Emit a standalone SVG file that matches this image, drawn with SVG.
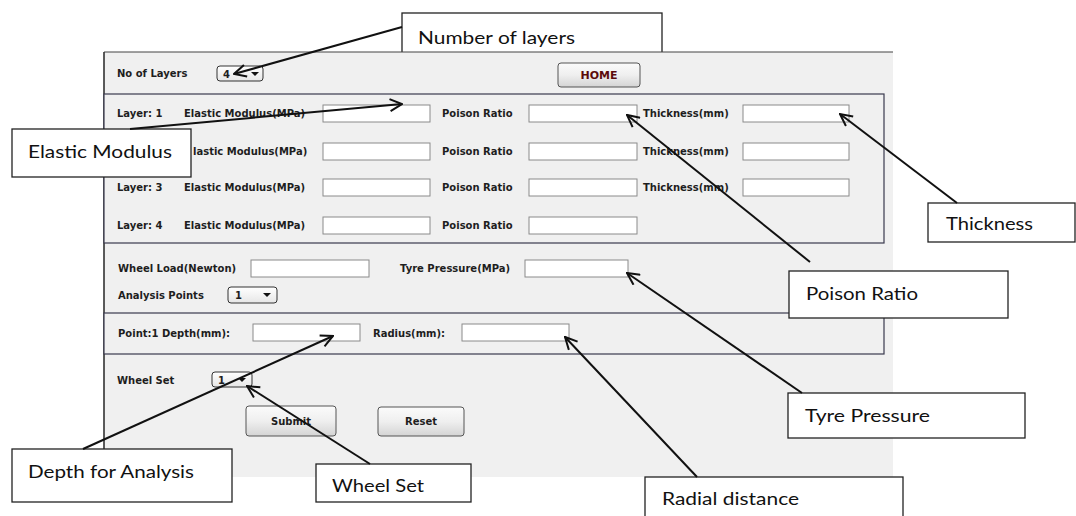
<svg xmlns="http://www.w3.org/2000/svg" width="1076" height="516" viewBox="0 0 1076 516">
<defs>
<linearGradient id="btn" x1="0" y1="0" x2="0" y2="1">
<stop offset="0" stop-color="#fbfbfb"/><stop offset="0.5" stop-color="#efefef"/><stop offset="1" stop-color="#d4d4d4"/>
</linearGradient>
<linearGradient id="dd" x1="0" y1="0" x2="0" y2="1">
<stop offset="0" stop-color="#ffffff"/><stop offset="1" stop-color="#e6e6e6"/>
</linearGradient>
<marker id="arr" viewBox="0 0 14 14" refX="13" refY="7" markerWidth="14" markerHeight="14" markerUnits="userSpaceOnUse" orient="auto">
<path d="M1,1 L13,7 L1,13" fill="none" stroke="#111" stroke-width="2"/>
</marker>
<style>
.ui{font-family:"DejaVu Sans",Verdana,sans-serif;font-size:10px;font-weight:bold;fill:#1e1e1e}
.fld{fill:#ffffff;stroke:#8a8a8a;stroke-width:1}
.ddb{fill:url(#dd);stroke:#333;stroke-width:1}
.btn{fill:url(#btn);stroke:#555;stroke-width:1}
.pan{fill:#f0f0f0;stroke:#3a3a4e;stroke-width:1.2}
.tri{fill:#111}
.cb{fill:#ffffff;stroke:#222;stroke-width:1.3}
.ct{font-family:Lato,"Liberation Sans",sans-serif;font-size:18px;fill:#111}
.con{stroke:#111;stroke-width:2;fill:none;marker-end:url(#arr)}
</style>
</defs>
<rect width="1076" height="516" fill="#ffffff"/>

<g id="callout-number-of-layers">
<rect class="cb" x="402" y="13" width="260" height="40"/>
<text class="ct" x="418" y="44" textLength="157" lengthAdjust="spacingAndGlyphs">Number of layers</text>
</g>

<g id="gui-window">
<rect x="104" y="52" width="789" height="425" fill="#f0f0f0"/>
<line x1="104" y1="52" x2="893" y2="52" stroke="#444" stroke-width="1.2"/>
<line x1="104" y1="52" x2="104" y2="477" stroke="#333" stroke-width="1.6"/>

<text class="ui" x="117" y="77">No of Layers</text>
<rect class="ddb" x="217" y="66" width="46" height="15" rx="3"/>
<text class="ui" x="223" y="78">4</text>
<path class="tri" d="M251,72 L259,72 L255,76 Z"/>

<rect class="btn" x="558" y="63" width="82" height="24" rx="3"/>
<text x="599" y="79" text-anchor="middle" font-family="DejaVu Sans,Verdana,sans-serif" font-size="11" font-weight="bold" fill="#5c0a0a">HOME</text>

<rect class="pan" x="104" y="94" width="780" height="149"/>
<text class="ui" x="117" y="117">Layer: 1</text>
<text class="ui" x="184" y="117">Elastic Modulus(MPa)</text>
<rect class="fld" x="323" y="105" width="107" height="17"/>
<text class="ui" x="442" y="117">Poison Ratio</text>
<rect class="fld" x="529" y="105" width="108" height="17"/>
<text class="ui" x="643" y="117">Thickness(mm)</text>
<rect class="fld" x="743" y="105" width="106" height="17"/>

<text class="ui" x="193" y="155">lastic Modulus(MPa)</text>
<rect class="fld" x="323" y="143" width="107" height="17"/>
<text class="ui" x="442" y="155">Poison Ratio</text>
<rect class="fld" x="529" y="143" width="108" height="17"/>
<text class="ui" x="643" y="155">Thickness(mm)</text>
<rect class="fld" x="743" y="143" width="106" height="17"/>

<text class="ui" x="117" y="191">Layer: 3</text>
<text class="ui" x="184" y="191">Elastic Modulus(MPa)</text>
<rect class="fld" x="323" y="179" width="107" height="17"/>
<text class="ui" x="442" y="191">Poison Ratio</text>
<rect class="fld" x="529" y="179" width="108" height="17"/>
<text class="ui" x="643" y="191">Thickness(mm)</text>
<rect class="fld" x="743" y="179" width="106" height="17"/>

<text class="ui" x="117" y="229">Layer: 4</text>
<text class="ui" x="184" y="229">Elastic Modulus(MPa)</text>
<rect class="fld" x="323" y="217" width="107" height="17"/>
<text class="ui" x="442" y="229">Poison Ratio</text>
<rect class="fld" x="529" y="217" width="108" height="17"/>

<text class="ui" x="118" y="272">Wheel Load(Newton)</text>
<rect class="fld" x="251" y="260" width="118" height="17"/>
<text class="ui" x="400" y="272">Tyre Pressure(MPa)</text>
<rect class="fld" x="525" y="260" width="103" height="17"/>
<text class="ui" x="118" y="299">Analysis Points</text>
<rect class="ddb" x="228" y="287" width="49" height="16" rx="3"/>
<text class="ui" x="235" y="299">1</text>
<path class="tri" d="M263,293 L271,293 L267,297 Z"/>

<rect class="pan" x="104" y="313" width="780" height="41"/>
<text class="ui" x="118" y="337">Point:1 Depth(mm):</text>
<rect class="fld" x="253" y="324" width="107" height="17"/>
<text class="ui" x="373" y="337">Radius(mm):</text>
<rect class="fld" x="462" y="324" width="107" height="17"/>

<text class="ui" x="117" y="384">Wheel Set</text>
<rect class="ddb" x="212" y="372" width="40" height="15" rx="3"/>
<text class="ui" x="218" y="384">1</text>
<path class="tri" d="M238,378 L246,378 L242,382 Z"/>

<rect class="btn" x="246" y="406" width="90" height="30" rx="3"/>
<text class="ui" x="291" y="425" text-anchor="middle">Submit</text>
<rect class="btn" x="378" y="407" width="86" height="29" rx="3"/>
<text class="ui" x="421" y="425" text-anchor="middle">Reset</text>
</g>

<g id="callout-elastic-modulus">
<rect class="cb" x="12" y="129" width="179" height="48"/>
<text class="ct" x="28" y="158" textLength="144" lengthAdjust="spacingAndGlyphs">Elastic Modulus</text>
</g>
<g id="callout-thickness">
<rect class="cb" x="928" y="203" width="147" height="39"/>
<text class="ct" x="946" y="230" textLength="87" lengthAdjust="spacingAndGlyphs">Thickness</text>
</g>
<g id="callout-poison-ratio">
<rect class="cb" x="789" y="271" width="219" height="47"/>
<text class="ct" x="806" y="300" textLength="112" lengthAdjust="spacingAndGlyphs">Poison Ratio</text>
</g>
<g id="callout-tyre-pressure">
<rect class="cb" x="788" y="393" width="237" height="45"/>
<text class="ct" x="805" y="422" textLength="125" lengthAdjust="spacingAndGlyphs">Tyre Pressure</text>
</g>
<g id="callout-radial-distance">
<rect class="cb" x="645" y="477" width="258" height="48"/>
<text class="ct" x="662" y="505" textLength="137" lengthAdjust="spacingAndGlyphs">Radial distance</text>
</g>
<g id="callout-depth-for-analysis">
<rect class="cb" x="12" y="449" width="220" height="53"/>
<text class="ct" x="28" y="478" textLength="166" lengthAdjust="spacingAndGlyphs">Depth for Analysis</text>
</g>
<g id="callout-wheel-set">
<rect class="cb" x="316" y="464" width="155" height="38"/>
<text class="ct" x="332" y="492" textLength="92" lengthAdjust="spacingAndGlyphs">Wheel Set</text>
</g>

<g id="connectors">
<line class="con" x1="402" y1="27" x2="234" y2="74"/>
<line class="con" x1="130" y1="129" x2="402" y2="104"/>
<line class="con" x1="810" y1="262" x2="627" y2="115"/>
<line class="con" x1="957" y1="203" x2="840" y2="114"/>
<line class="con" x1="802" y1="393" x2="627" y2="273"/>
<line class="con" x1="697" y1="477" x2="565" y2="337"/>
<line class="con" x1="83" y1="449" x2="333" y2="336"/>
<line class="con" x1="370" y1="464" x2="247" y2="386"/>
</g>
</svg>
